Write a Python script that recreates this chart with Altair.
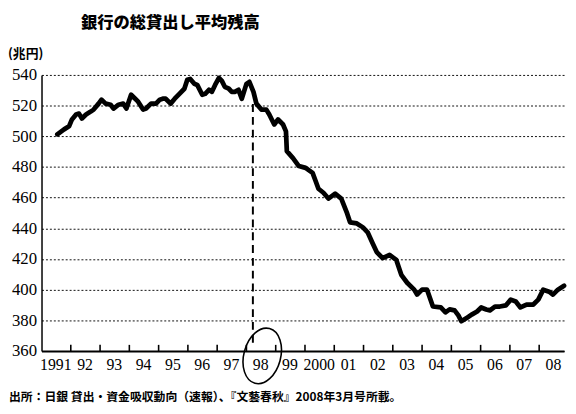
import altair as alt
import pandas as pd

# --- data ---
years = [1991.54,1991.77,1991.94,1992.04,1992.18,1992.28,1992.38,1992.52,1992.68,1992.78,1992.95,
         1993.05,1993.19,1993.36,1993.46,1993.63,1993.79,1993.90,
         1994.06,1994.20,1994.30,1994.47,1994.57,1994.74,1994.91,
         1995.04,1995.14,1995.24,1995.41,1995.55,1995.71,1995.88,1995.98,
         1996.08,1996.22,1996.32,1996.49,1996.59,1996.72,1996.82,1996.93,
         1997.06,1997.16,1997.26,1997.40,1997.50,1997.60,1997.73,1997.84,
         1998.00,1998.10,1998.24,1998.34,1998.51,1998.68,1998.78,1998.95,
         1999.08,1999.25,1999.35,1999.38,1999.59,1999.79,
         2000.02,2000.26,2000.36,2000.46,2000.63,2000.80,
         2001.03,2001.24,2001.44,2001.54,2001.77,2001.98,
         2002.14,2002.31,2002.45,2002.65,2002.89,
         2003.12,2003.29,2003.49,2003.73,2003.83,
         2004.00,2004.17,2004.37,2004.64,2004.80,2004.94,
         2005.11,2005.24,2005.34,2005.55,2005.71,2005.88,
         2006.02,2006.19,2006.32,2006.49,2006.66,2006.86,
         2007.03,2007.20,2007.36,2007.57,2007.80,2007.97,
         2008.14,2008.34,2008.47,2008.64,2008.85]
values = [501.3,504.5,506.5,511,514.2,514.8,511.6,514.2,516.1,517.4,521.3,
          523.9,521.3,520.6,518.1,520.6,521.3,518.1,
          527.1,524.5,522.6,517.4,518.1,521.3,521.3,
          523.9,524.5,524.5,521.3,524.5,527.7,531,536.8,
          537.4,534.2,533.5,527.1,527.7,530.3,529,533.5,
          538.1,536.1,532.3,531,529,529,530.3,524.5,
          534.2,535.5,529,521.3,517.4,517.4,514.2,507.7,
          511,507.7,503.2,490.3,485.8,480.6,
          479.4,476.1,471,465.8,463.2,459.4,
          462.6,459.4,449.7,443.9,443.2,440.6,
          437.4,430.3,424.5,420.6,422.6,
          419.4,409.7,404.5,400,396.8,
          400,400,389,388.4,385.2,387.1,
          386.5,383.2,379.4,381.9,383.9,385.8,
          388.4,387.1,386.5,389,389,389.7,
          393.5,392.3,388.4,390.3,390.3,393.5,
          400,398.7,396.8,400,402.6]

tick_years = list(range(1992, 2009))
label_text = ["1991", "92", "93", "94", "95", "96", "97", "98", "99", "2000",
              "01", "02", "03", "04", "05", "06", "07", "08"]
label_offset = 0.47
label_pos = [1991 + i + label_offset for i in range(len(label_text))]
y_ticks = [360, 380, 400, 420, 440, 460, 480, 500, 520, 540]

marker_year = [1998.22]
marker_top = [521]
marker_bottom = [363]
circle_year = [1998.54]
circle_value = [356.8]

title_text = "銀行の総貸出し平均残高"
unit_text = "(兆円)"
source_text = "出所：日銀 貸出・資金吸収動向（速報）、『文藝春秋』2008年3月号所載。"

# --- chart ---
df = pd.DataFrame({"year": years, "value": values})
xscale = alt.Scale(domain=[1991, 2008.85], nice=False, zero=False)
yscale = alt.Scale(domain=[360, 540], nice=False, zero=False)

label_expr = ("[" + ",".join(f"'{t}'" for t in label_text) + "]"
              f"[round(datum.value - {1991 + label_offset})]")

serif = "Liberation Serif"
jp = "Noto Sans CJK JP"

x_axis = alt.Axis(values=label_pos, tickCount=40, labelExpr=label_expr, tickSize=0,
                  grid=False, domainColor="black", domainWidth=2,
                  labelFont=serif, labelFontSize=16, labelColor="black",
                  labelPadding=6, labelFlush=False, labelOverlap=False, title=None)
y_axis = alt.Axis(values=y_ticks, tickCount=40, tickSize=0, grid=True,
                  gridDash=[2, 2], gridColor="#111111", gridWidth=1,
                  domainColor="black", domainWidth=1.5,
                  labelFont=serif, labelFontSize=17, labelColor="black",
                  labelPadding=5, labelOverlap=False, title=None)

X = alt.X("year:Q", scale=xscale, axis=x_axis, title=None)
Y = alt.Y("value:Q", scale=yscale, axis=y_axis, title=None)

line = alt.Chart(df).mark_line(
    color="black", strokeWidth=4.8, strokeJoin="round", strokeCap="round"
).encode(x=X, y=Y)

ticks = alt.Chart(pd.DataFrame({"year": tick_years})).mark_rule(
    color="black", strokeWidth=1.6
).encode(
    x=X,
    y=alt.YDatum(360, scale=yscale, axis=y_axis, title=None),
    y2=alt.Y2Datum(364),
)

marker = alt.Chart(pd.DataFrame({"year": marker_year, "value": marker_top,
                                 "value2": marker_bottom})).mark_rule(
    color="black", strokeWidth=2, strokeDash=[8, 5]
).encode(x=X, y=Y, y2="value2:Q")

ellipse_path = ("M0,-1C0.359,-1 0.65,-0.552 0.65,0C0.65,0.552 0.359,1 0,1"
                "C-0.359,1 -0.65,0.552 -0.65,0C-0.65,-0.552 -0.359,-1 0,-1Z")
circle = alt.Chart(pd.DataFrame({"year": circle_year, "value": circle_value})).mark_point(
    shape=ellipse_path, size=3300, angle=15, filled=False, stroke="black",
    strokeWidth=1.6, opacity=1, clip=False
).encode(x=X, y=Y)

title = alt.Chart(pd.DataFrame({"t": [title_text]})).mark_text(
    font=jp, fontSize=16.5, fontWeight=900, align="left", baseline="middle", color="black"
).encode(text="t:N", x=alt.value(40), y=alt.value(-53))

unit = alt.Chart(pd.DataFrame({"t": [unit_text]})).mark_text(
    font=jp, fontSize=13, fontWeight="bold", align="left", baseline="middle", color="black"
).encode(text="t:N", x=alt.value(-34), y=alt.value(-21))

source = alt.Chart(pd.DataFrame({"t": [source_text]})).mark_text(
    font=jp, fontSize=12, fontWeight="bold", align="left", baseline="middle", color="black"
).encode(text="t:N", x=alt.value(-33), y=alt.value(327))

chart = alt.layer(line, ticks, marker, circle, title, unit, source).properties(
    width=530, height=280,
    autosize=alt.AutoSizeParams(type="none"),
    padding={"left": 34, "top": 65, "right": 4, "bottom": 61},
    background="white",
).configure_view(stroke=None).configure_axis(
    labelFont=serif, labelColor="black", tickCount=40
)

chart.save("out.html", embed_options={"renderer": "svg", "actions": False})
